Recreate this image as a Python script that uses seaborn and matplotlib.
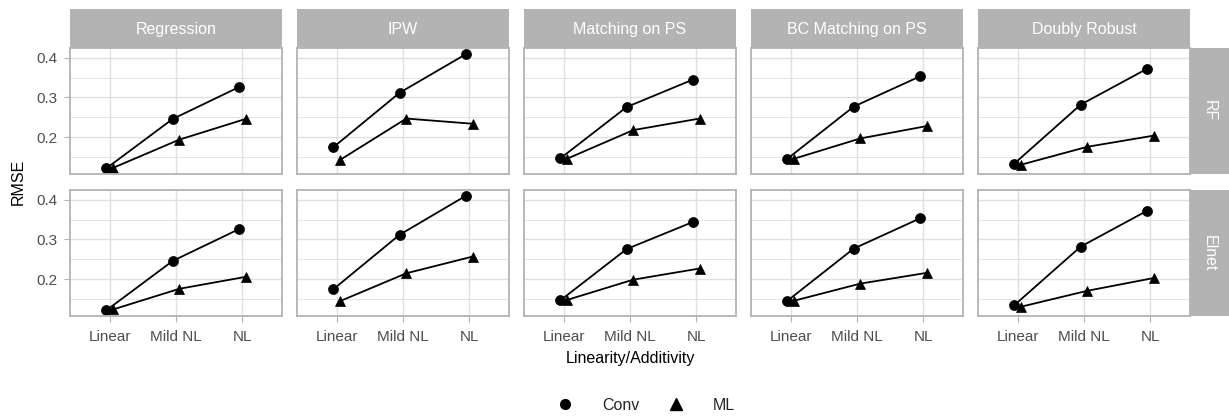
import numpy as np
import pandas as pd
import seaborn as sns
import matplotlib
matplotlib.use("Agg")
import matplotlib.pyplot as plt
from matplotlib.lines import Line2D
from matplotlib.ticker import FixedLocator

# ---------------- data ----------------
methods = ["Regression", "IPW", "Matching on PS", "BC Matching on PS", "Doubly Robust"]
learners = ["RF", "Elnet"]
levels = ["Linear", "Mild NL", "NL"]
types = ["Conv", "ML"]

rf_conv = [[0.122, 0.246, 0.326],
           [0.175, 0.312, 0.409],
           [0.147, 0.276, 0.345],
           [0.146, 0.277, 0.353],
           [0.134, 0.282, 0.372]]
rf_ml = [[0.123, 0.194, 0.246],
         [0.143, 0.247, 0.234],
         [0.146, 0.218, 0.247],
         [0.146, 0.197, 0.228],
         [0.131, 0.176, 0.204]]
elnet_conv = [[0.122, 0.246, 0.326],
              [0.175, 0.312, 0.410],
              [0.147, 0.276, 0.344],
              [0.146, 0.277, 0.353],
              [0.135, 0.282, 0.372]]
elnet_ml = [[0.124, 0.176, 0.206],
            [0.145, 0.215, 0.257],
            [0.148, 0.199, 0.227],
            [0.146, 0.189, 0.216],
            [0.131, 0.171, 0.203]]

series = {("RF", "Conv"): rf_conv, ("RF", "ML"): rf_ml,
          ("Elnet", "Conv"): elnet_conv, ("Elnet", "ML"): elnet_ml}

rows = []
for (lrn, typ), tab in series.items():
    for mi, m in enumerate(methods):
        for li, lev in enumerate(levels):
            rows.append(dict(learner=lrn, method=m, type=typ, level=lev,
                             code=li, rmse=tab[mi][li]))
df = pd.DataFrame(rows)
dodge = {"Conv": -0.05, "ML": 0.05}
df["xpos"] = df["code"] + df["type"].map(dodge)

# ---------------- style ----------------
sns.set_style("white")
plt.rcParams["font.family"] = ["Liberation Sans", "DejaVu Sans"]

W, H = 1229, 416
fig = plt.figure(figsize=(W / 100, H / 100), dpi=100)

col_x0 = [70 + i * 227 for i in range(5)]
pw = 212
row_top = [48, 190]
ph = 126
strip_th = 39
grid_c = "#E0E0E0"
border_c = "#B3B3B3"
strip_c = "#B3B3B3"
tick_fs = 11
strip_fs = 11.5
title_fs = 11.5

lo, hi = df["rmse"].min(), df["rmse"].max()
pad = 0.05 * (hi - lo)

def rect(x, y, w, h):
    return [x / W, 1 - (y + h) / H, w / W, h / H]

for ri, lrn in enumerate(learners):
    for ci, m in enumerate(methods):
        ax = fig.add_axes(rect(col_x0[ci], row_top[ri], pw, ph))
        sub = df[(df.learner == lrn) & (df.method == m)]
        sns.lineplot(data=sub, x="xpos", y="rmse", style="type",
                     style_order=types, markers={"Conv": "o", "ML": "^"},
                     dashes=False, color="black", linewidth=1.3,
                     markersize=7.2, mec="black", mew=0.5, legend=False,
                     ax=ax, sort=True, estimator=None)
        ax.set_xlim(-0.6, len(levels) - 1 + 0.6)
        ax.set_ylim(lo - pad, hi + pad)
        ax.set_xticks(range(len(levels)))
        ax.set_yticks([0.2, 0.3, 0.4])
        ax.yaxis.set_minor_locator(FixedLocator([0.15, 0.25, 0.35]))
        ax.grid(True, which="major", color=grid_c, linewidth=1.0)
        ax.grid(True, which="minor", axis="y", color=grid_c, linewidth=0.6)
        ax.set_axisbelow(True)
        ax.tick_params(axis="both", which="major", length=4, width=0.8,
                       color=border_c, labelcolor="#4D4D4D",
                       labelsize=tick_fs, left=True, bottom=True)
        ax.tick_params(axis="y", which="major", pad=5)
        ax.tick_params(axis="x", which="major", pad=6)
        ax.tick_params(axis="y", which="minor", length=0)
        if ri == 1:
            ax.set_xticklabels(levels)
        else:
            ax.set_xticklabels([])
            ax.tick_params(axis="x", length=0)
        if ci == 0:
            ax.set_yticklabels(["0.2", "0.3", "0.4"])
        else:
            ax.set_yticklabels([])
            ax.tick_params(axis="y", length=0)
        ax.set_xlabel("")
        ax.set_ylabel("")
        for s in ax.spines.values():
            s.set_color(border_c)
            s.set_linewidth(1.3)
            s.set_visible(True)

        if ri == 0:
            sax = fig.add_axes(rect(col_x0[ci], row_top[0] - strip_th, pw, strip_th))
            sax.set_facecolor(strip_c)
            sax.set_xticks([]); sax.set_yticks([])
            for s in sax.spines.values():
                s.set_visible(False)
            sax.text(0.5, 0.36, m, color="white", fontsize=strip_fs,
                     ha="center", va="baseline", transform=sax.transAxes)
    # right strip
    rax = fig.add_axes(rect(col_x0[-1] + pw, row_top[ri], strip_th, ph))
    rax.set_facecolor(strip_c)
    rax.set_xticks([]); rax.set_yticks([])
    for s in rax.spines.values():
        s.set_visible(False)
    rax.text(0.5, 0.5, lrn, color="white", fontsize=strip_fs, rotation=-90,
             ha="center", va="center", transform=rax.transAxes)

# axis titles
fig.text(18 / W, 1 - 182 / H, "RMSE", rotation=90, ha="center", va="center",
         fontsize=title_fs, color="black")
fig.text(630 / W, 1 - 359 / H, "Linearity/Additivity", ha="center",
         va="center", fontsize=title_fs, color="black")

# legend
handles = [Line2D([], [], linestyle="none", marker="o", color="black",
                  markersize=7),
           Line2D([], [], linestyle="none", marker="^", color="black",
                  markersize=8)]
fig.legend(handles, types, loc="center", bbox_to_anchor=(646 / W, 1 - 405 / H),
           ncol=2, frameon=False, fontsize=title_fs, handletextpad=1.8,
           columnspacing=1.8, handlelength=1.0)

fig.savefig("out.png", dpi=100)
